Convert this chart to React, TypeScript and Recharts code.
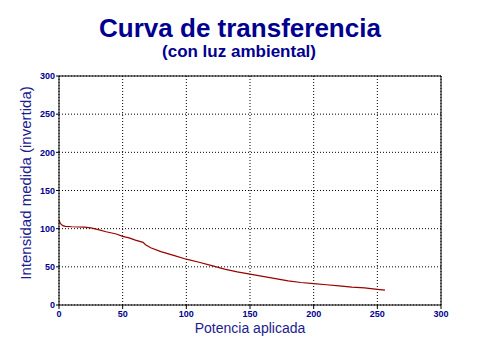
import React from 'react';
import { LineChart, Line, XAxis, YAxis, CartesianGrid, ReferenceLine } from 'recharts';

const potencia = [0, 1, 3, 5, 10, 20, 25, 30, 37, 45, 50, 55, 60, 66, 68, 72, 80, 90, 100, 110, 120, 130, 140, 150, 160, 170, 180, 190, 200, 210, 220, 230, 240, 250, 256];
const intensidad = [111, 107, 104, 103, 102.5, 102, 101, 99, 96, 93, 90, 88, 85, 82, 79, 75, 70, 65, 60, 56, 51.5, 47, 43.5, 40.5, 37.5, 34.5, 31.5, 29.5, 28, 26.5, 25, 23.5, 22.5, 20.5, 19.5];
const xTicks = [0, 50, 100, 150, 200, 250, 300];
const yTicks = [0, 50, 100, 150, 200, 250, 300];

const data = potencia.map((p, i) => ({ x: p, y: intensidad[i] }));

const NAVY = '#000090';
const LABEL = '#1c1c90';
const FONT = 'Arial, "Liberation Sans", sans-serif';
const tickStyle = { fontFamily: FONT, fontSize: 9, fontWeight: 'bold', fill: NAVY };

export default function App() {
  return (
    <div style={{ position: 'absolute', left: 0, top: 0, width: 480, height: 360, background: '#fff' }}>
      <LineChart width={480} height={360} data={data} margin={{ top: 76, right: 39, bottom: 35, left: 29 }}>
        <CartesianGrid stroke="#000" strokeDasharray="1 2" />
        <XAxis
          dataKey="x"
          type="number"
          domain={[0, 300]}
          ticks={xTicks}
          stroke="#000"
          tickSize={4}
          tickMargin={2}
          tick={tickStyle}
          height={20}
        />
        <YAxis
          type="number"
          domain={[0, 300]}
          ticks={yTicks}
          stroke="#000"
          tickSize={3}
          tickMargin={1}
          tick={tickStyle}
          width={30}
        />
        <ReferenceLine y={300} stroke="#000" strokeWidth={1} />
        <ReferenceLine x={300} stroke="#000" strokeWidth={1} />
        <Line
          type="linear"
          dataKey="y"
          stroke="#990000"
          strokeWidth={1.2}
          dot={false}
          isAnimationActive={false}
        />
      </LineChart>
      <svg width={480} height={360} style={{ position: 'absolute', left: 0, top: 0, pointerEvents: 'none' }}>
        <text x={240} y={37} textAnchor="middle" fontFamily={FONT} fontWeight="bold" fontSize={26} fill={NAVY}>
          Curva de transferencia
        </text>
        <text x={239} y={57} textAnchor="middle" fontFamily={FONT} fontWeight="bold" fontSize={17} fill={NAVY}>
          (con luz ambiental)
        </text>
        <text x={250} y={333} textAnchor="middle" fontFamily={FONT} fontSize={14} fill={LABEL}>
          Potencia aplicada
        </text>
        <text
          x={31}
          y={183}
          textAnchor="middle"
          transform="rotate(-90 31 183)"
          fontFamily={FONT}
          fontSize={15}
          fill={LABEL}
        >
          Intensidad medida (invertida)
        </text>
      </svg>
    </div>
  );
}
